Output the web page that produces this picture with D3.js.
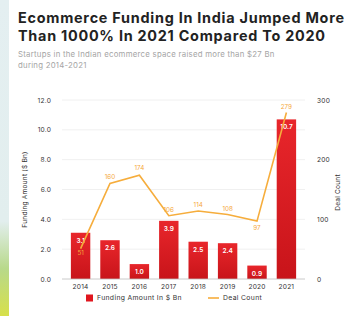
<!DOCTYPE html>
<html>
<head>
<meta charset="utf-8">
<script src="https://cdn.jsdelivr.net/npm/d3@7"></script>
<style>
  body { margin: 0; background: #fff; }
  svg { display: block; }
</style>
</head>
<body>
<div id="chart"></div>
<script>
const years = ["2014", "2015", "2016", "2017", "2018", "2019", "2020", "2021"];
const funding = [3.1, 2.6, 1.0, 3.9, 2.5, 2.4, 0.9, 10.7];
const deals = [51, 160, 174, 106, 114, 108, 97, 279];
const leftTicks = [0, 2, 4, 6, 8, 10, 12];
const rightTicks = [0, 100, 200, 300];

const width = 351, height = 316;
const margin = {top: 100, right: 46, bottom: 37, left: 62};

const svg = d3.select("#chart").append("svg")
    .attr("width", width)
    .attr("height", height)
    .style("font-family", "Inter, 'Open Sans', sans-serif");

const defs = svg.append("defs");
const side = defs.append("linearGradient").attr("id", "side").attr("x1", 0).attr("y1", 0).attr("x2", 0).attr("y2", 1);
side.append("stop").attr("offset", "0%").attr("stop-color", "#e4eff1");
side.append("stop").attr("offset", "70%").attr("stop-color", "#e2eeee");
side.append("stop").attr("offset", "85%").attr("stop-color", "#b8d98a");
side.append("stop").attr("offset", "100%").attr("stop-color", "#d7e04a");

const barGrad = defs.append("linearGradient").attr("id", "bar").attr("x1", 0).attr("y1", 0).attr("x2", 0).attr("y2", 1);
barGrad.append("stop").attr("offset", "0%").attr("stop-color", "#e8262b");
barGrad.append("stop").attr("offset", "100%").attr("stop-color", "#c8141a");

// page decoration on the left
svg.append("rect").attr("x", 0).attr("y", 0).attr("width", 9).attr("height", height).attr("fill", "url(#side)");

// title
const title = svg.append("text").attr("x", 18).attr("fill", "#222")
    .attr("font-size", 14.4).attr("font-weight", 700).attr("letter-spacing", 0.75);
title.append("tspan").attr("x", 18).attr("y", 23).text("Ecommerce Funding In India Jumped More");
title.append("tspan").attr("x", 18).attr("y", 41).text("Than 1000% In 2021 Compared To 2020");

const sub = svg.append("text").attr("fill", "#a5a5a5").attr("font-size", 7.8).attr("letter-spacing", 0.25);
sub.append("tspan").attr("x", 18).attr("y", 57).text("Startups in the Indian ecommerce space raised more than $27 Bn");
sub.append("tspan").attr("x", 18).attr("y", 68).text("during 2014-2021");

const x = d3.scaleBand().domain(years)
    .range([margin.left + 3, width - margin.right - 3])
    .paddingInner(0.34).paddingOuter(0.2);
const y = d3.scaleLinear().domain([0, 12]).range([height - margin.bottom, margin.top]);
const y2 = d3.scaleLinear().domain([0, 300]).range([height - margin.bottom, margin.top]);

const tickFont = g => g.selectAll("text")
    .attr("fill", "#333").attr("font-size", 6.6).attr("letter-spacing", 0.2)
    .attr("font-family", "Inter, sans-serif");

// gridlines
svg.append("g")
  .selectAll("line")
  .data(leftTicks.slice(1))
  .join("line")
    .attr("x1", margin.left)
    .attr("x2", width - margin.right)
    .attr("y1", d => y(d))
    .attr("y2", d => y(d))
    .attr("stroke", "#ececec")
    .attr("stroke-width", 0.8);

// left axis
svg.append("g")
    .attr("transform", `translate(${margin.left - 8},0)`)
    .call(d3.axisLeft(y).tickValues(leftTicks).tickFormat(d3.format(".1f")).tickSize(0))
    .call(g => g.select(".domain").remove())
    .call(tickFont);

// right axis
svg.append("g")
    .attr("transform", `translate(${width - margin.right + 9},0)`)
    .call(d3.axisRight(y2).tickValues(rightTicks).tickSize(0))
    .call(g => g.select(".domain").remove())
    .call(tickFont);

// bars
svg.append("g")
  .selectAll("rect")
  .data(years)
  .join("rect")
    .attr("x", d => x(d))
    .attr("width", x.bandwidth())
    .attr("y", (d, i) => y(funding[i]))
    .attr("height", (d, i) => y(0) - y(funding[i]))
    .attr("fill", "url(#bar)");

// baseline
svg.append("line")
    .attr("x1", margin.left).attr("x2", width - margin.right)
    .attr("y1", y(0)).attr("y2", y(0))
    .attr("stroke", "#bdbdbd").attr("stroke-width", 0.8);

// bottom axis
svg.append("g")
    .attr("transform", `translate(0,${y(0) + 2})`)
    .call(d3.axisBottom(x).tickSize(0))
    .call(g => g.select(".domain").remove())
    .call(tickFont);

// bar labels
svg.append("g")
  .selectAll("text")
  .data(years)
  .join("text")
    .attr("x", d => x(d) + x.bandwidth() / 2)
    .attr("y", (d, i) => y(funding[i]) + 10)
    .attr("text-anchor", "middle")
    .attr("fill", "#fff")
    .attr("font-size", 6.5)
    .attr("font-weight", 600)
    .text((d, i) => d3.format(".1f")(funding[i]));

// deal count line
const line = d3.line()
    .x((d, i) => x(years[i]) + x.bandwidth() / 2)
    .y(d => y2(d));

svg.append("path")
    .datum(deals)
    .attr("d", line)
    .attr("fill", "none")
    .attr("stroke", "#f6ad3c")
    .attr("stroke-width", 1.6);

const labelDy = [6, -5, -5, -4, -4, -4, 9, -4];
svg.append("g")
  .selectAll("text")
  .data(deals)
  .join("text")
    .attr("x", (d, i) => x(years[i]) + x.bandwidth() / 2)
    .attr("y", (d, i) => y2(d) + labelDy[i])
    .attr("text-anchor", "middle")
    .attr("fill", "#f5a83a")
    .attr("font-size", 6.3)
    .text(d => d);

// axis titles
svg.append("text")
    .attr("transform", `translate(27,${(y(0) + y(12)) / 2}) rotate(-90)`)
    .attr("text-anchor", "middle")
    .attr("fill", "#333")
    .attr("font-size", 6.6)
    .attr("letter-spacing", 0.2)
    .text("Funding Amount ($ Bn)");

svg.append("text")
    .attr("transform", `translate(340,${(y(0) + y(12)) / 2 + 3}) rotate(-90)`)
    .attr("text-anchor", "middle")
    .attr("fill", "#333")
    .attr("font-size", 6.6)
    .attr("letter-spacing", 0.2)
    .text("Deal Count");

// legend
const legend = svg.append("g").attr("transform", "translate(86,298)")
    .attr("font-size", 6.8).attr("letter-spacing", 0.35).attr("fill", "#333");
legend.append("rect").attr("x", 0).attr("y", -3.5).attr("width", 7).attr("height", 7).attr("fill", "#e0161e");
legend.append("text").attr("x", 11).attr("y", 2.3).text("Funding Amount In $ Bn");
legend.append("line").attr("x1", 122).attr("x2", 133).attr("y1", 0).attr("y2", 0).attr("stroke", "#f6ad3c").attr("stroke-width", 1.6);
legend.append("text").attr("x", 137).attr("y", 2.3).text("Deal Count");
</script>
</body>
</html>
